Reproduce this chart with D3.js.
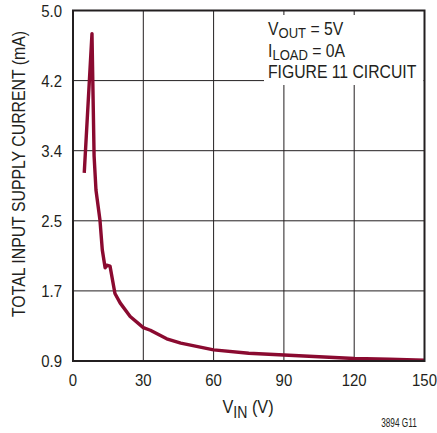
<!DOCTYPE html>
<html>
<head>
<meta charset="utf-8">
<script src="https://cdn.jsdelivr.net/npm/d3@7"></script>
<style>
  body { margin: 0; background: #fff; }
  svg { display: block; }
</style>
</head>
<body>
<div id="chart"></div>
<script>
// data
const vin     = [4.8, 8.1, 9.0, 9.8, 11.5, 12.5, 13.7, 14.4, 15.8, 17.9, 20.1, 24.4, 30, 33, 40, 46, 60, 75, 90, 105, 120, 135, 150];
const current = [3.10, 4.73, 3.30, 2.90, 2.55, 2.20, 1.99, 2.02, 2.01, 1.69, 1.58, 1.42, 1.29, 1.26, 1.16, 1.11, 1.03, 0.99, 0.97, 0.95, 0.93, 0.92, 0.91];

const xTicks = [0, 30, 60, 90, 120, 150];
const yTicks = [0.9, 1.72, 2.54, 3.36, 4.18, 5.0];
const yTickLabels = ["0.9", "1.7", "2.5", "3.4", "4.2", "5.0"];

const width = 437, height = 433;
const margin = {top: 10.5, right: 12.5, bottom: 72, left: 73};
const font = "'Liberation Sans', Arial, sans-serif";
const squeeze = 0.88;

const svg = d3.select("#chart").append("svg")
  .attr("width", width)
  .attr("height", height);

const x = d3.scaleLinear()
  .domain([0, 150])
  .range([margin.left, width - margin.right]);
const y = d3.scaleLinear()
  .domain([0.9, 5.0])
  .range([height - margin.bottom, margin.top]);

// condensed text placed at (px, py)
function label(px, py, size, anchor, k) {
  return svg.append("text")
    .attr("transform", `translate(${px},${py}) scale(${k || squeeze},1)`)
    .attr("font-family", font)
    .attr("font-size", size)
    .attr("text-anchor", anchor)
    .attr("fill", "#231f20");
}

// grid
svg.append("g")
  .selectAll("line")
  .data(xTicks.slice(1, -1))
  .join("line")
  .attr("x1", d => x(d)).attr("x2", d => x(d))
  .attr("y1", y(5.0)).attr("y2", y(0.9))
  .attr("stroke", "#231f20")
  .attr("stroke-width", 1);
svg.append("g")
  .selectAll("line")
  .data(yTicks.slice(1, -1))
  .join("line")
  .attr("x1", x(0)).attr("x2", x(150))
  .attr("y1", d => y(d)).attr("y2", d => y(d))
  .attr("stroke", "#231f20")
  .attr("stroke-width", 1);

// white box behind the notes
svg.append("rect")
  .attr("x", 264).attr("y", 15)
  .attr("width", x(150) - 265).attr("height", 70)
  .attr("fill", "#fff");

// curve
const line = d3.line()
  .x(d => x(d[0]))
  .y(d => y(d[1]));

svg.append("path")
  .datum(d3.zip(vin, current))
  .attr("fill", "none")
  .attr("stroke", "#8a0a30")
  .attr("stroke-width", 3.4)
  .attr("stroke-linejoin", "round")
  .attr("d", line);

// frame
svg.append("rect")
  .attr("x", x(0)).attr("y", y(5.0))
  .attr("width", x(150) - x(0))
  .attr("height", y(0.9) - y(5.0))
  .attr("fill", "none")
  .attr("stroke", "#231f20")
  .attr("stroke-width", 2);

// tick labels
yTicks.forEach((d, i) => {
  label(62, y(d) + 6, 17, "end").text(yTickLabels[i]);
});
xTicks.forEach(d => {
  label(x(d), 386, 17, "middle").text(d);
});

// axis titles
svg.append("text")
  .attr("transform", `translate(25,174) rotate(-90) scale(${squeeze},1)`)
  .attr("font-family", font)
  .attr("font-size", 18)
  .attr("text-anchor", "middle")
  .attr("fill", "#231f20")
  .text("TOTAL INPUT SUPPLY CURRENT (mA)");

const xt = label(248, 413, 18.5, "middle");
xt.append("tspan").text("V");
xt.append("tspan").attr("font-size", 16).attr("dy", 5).text("IN");
xt.append("tspan").attr("dy", -5).text(" (V)");

label(399, 427, 12.5, "middle", 0.66).text("3894 G11");

// notes
const n1 = label(268, 35, 17.5, "start", 0.9);
n1.append("tspan").text("V");
n1.append("tspan").attr("font-size", 14.5).attr("dy", 3).text("OUT");
n1.append("tspan").attr("dy", -3).text(" = 5V");

const n2 = label(268, 56.5, 17.5, "start", 0.9);
n2.append("tspan").text("I");
n2.append("tspan").attr("font-size", 14.5).attr("dy", 3).text("LOAD");
n2.append("tspan").attr("dy", -3).text(" = 0A");

label(268, 77.5, 17.5, "start", 0.9).text("FIGURE 11 CIRCUIT");
</script>
</body>
</html>
